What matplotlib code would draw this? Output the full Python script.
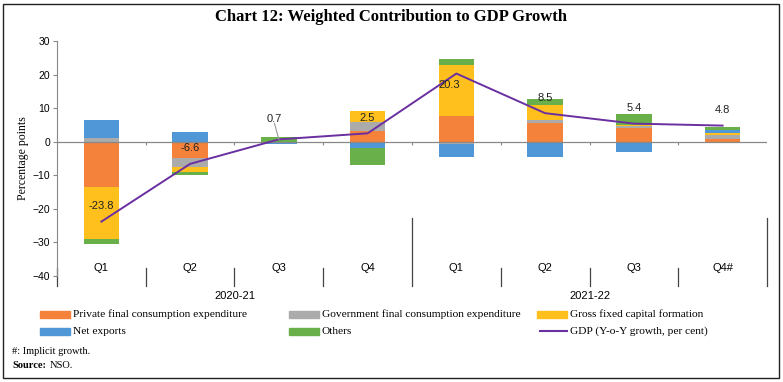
import matplotlib.pyplot as plt
from matplotlib.patches import Rectangle
from matplotlib.lines import Line2D
import numpy as np

# Quarters and fiscal years
quarters = ['Q1', 'Q2', 'Q3', 'Q4', 'Q1', 'Q2', 'Q3', 'Q4#']
years = ['2020-21', '2021-22']

# Weighted contributions (percentage points)
private_cons = [-13.6, -4.8, 0.0, 3.3, 7.7, 5.5, 4.1, 0.7]
govt_cons = [1.1, -2.6, 0.0, 2.6, -0.8, 0.9, 0.5, 1.4]
gfcf = [-15.3, -1.5, 0.0, 3.2, 15.2, 4.6, 0.5, 0.4]
net_exports = [5.3, 2.8, -0.8, -1.9, -3.7, -4.5, -3.2, 1.1]
others = [-1.5, -0.9, 1.3, -4.9, 1.6, 1.7, 3.3, 0.8]

# GDP growth, y-o-y per cent
gdp = [-23.8, -6.6, 0.7, 2.5, 20.3, 8.5, 5.4, 4.8]

series = [private_cons, govt_cons, gfcf, net_exports, others]
names = ['Private final consumption expenditure',
         'Government final consumption expenditure',
         'Gross fixed capital formation', 'Net exports', 'Others']
colors = ['#F4823A', '#ABABAB', '#FFC01E', '#4F97D6', '#6AB04A']
line_color = '#6A2FA0'

serif = 'Liberation Serif'
sans = 'Liberation Sans'

fig = plt.figure(figsize=(7.83, 3.82), dpi=100)
W, H = 783., 382.
ax = fig.add_axes([57/W, 1-276/H, (767-57)/W, (276-41)/H])

x = np.arange(len(quarters))
pos = np.zeros(len(x))
neg = np.zeros(len(x))
for vals, c in zip(series, colors):
  v = np.array(vals)
  bottom = np.where(v >= 0, pos, neg)
  ax.bar(x, v, 0.4, bottom=bottom, color=c, edgecolor='none', zorder=2)
  pos = pos + np.where(v >= 0, v, 0)
  neg = neg + np.where(v < 0, v, 0)

ax.plot(x, gdp, color=line_color, lw=1.4, zorder=3)

# data labels for GDP line (offsets in data units / category units)
label_dy = [4.6, 4.6, 6.1, 4.5, -3.4, 4.6, 4.5, 4.6]
label_dx = [0, 0, -0.05, 0, -0.08, 0, 0, 0]
for i, g in enumerate(gdp):
  lx, ly = x[i] + label_dx[i], g + label_dy[i]
  ax.text(lx, ly, '{:.1f}'.format(g), ha='center', va='center',
          fontsize=8, family=sans, color='#222222', zorder=4)
  if i == 2:
    ax.plot([lx, x[i]], [ly - 1.3, g], color='#999999', lw=0.8, zorder=4)

ax.set_xlim(-0.5, len(x) - 0.5)
ax.set_ylim(-40, 30)
ax.set_yticks(range(-40, 31, 10))
ax.set_xticks([])
ax.tick_params(axis='y', labelsize=7.5, length=3, pad=2, color='#888888', width=0.8)
for t in ax.get_yticklabels():
  t.set_family(sans)
for s in ['top', 'right', 'bottom']:
  ax.spines[s].set_visible(False)
ax.spines['left'].set_color('#888888')
ax.spines['left'].set_linewidth(0.8)
ax.axhline(0, color='#888888', lw=0.9, zorder=2.5)
ax.set_ylabel('Percentage points', family=serif, fontsize=8.5)
ax.yaxis.set_label_coords(-28/710, 0.5)

# small ticks on the zero line
bnd = np.arange(len(x) + 1) - 0.5
ax.vlines(bnd[1:], -0.9, 0, color='#888888', lw=0.8)

# category separators below the plot
trans = ax.get_xaxis_transform()
for k, b in enumerate(bnd):
  top = 0.247 if k in (4, 8) else 0.034
  ax.plot([b, b], [top, -0.043], transform=trans, color='#444444',
          lw=0.9, clip_on=False)
for i, q in enumerate(quarters):
  ax.text(i, 0.034, q, transform=trans, ha='center', va='center',
          fontsize=8, family=sans)
for j, yr in enumerate(years):
  ax.text(1.5 + 4*j, -0.085, yr, transform=trans, ha='center', va='center',
          fontsize=8, family=sans)

# title
fig.text(391/W, 1-17/H, 'Chart 12: Weighted Contribution to GDP Growth',
         ha='center', va='center', fontsize=12, fontweight='bold', family=serif)

# legend drawn by hand
leg_x = [40, 289, 537]
leg_y = [314, 331]
for k, (n, c) in enumerate(zip(names + ['GDP (Y-o-Y growth, per cent)'],
                                colors + [line_color])):
  col, row = k % 3, k // 3
  x0, y0 = leg_x[col], leg_y[row]
  if k < 5:
    fig.patches.append(Rectangle((x0/W, 1-(y0+3.5)/H), 30/W, 7/H,
                                 transform=fig.transFigure, color=c))
  else:
    fig.lines.append(Line2D([(x0+3)/W, (x0+30)/W], [1-y0/H, 1-y0/H],
                            transform=fig.transFigure, color=c, lw=1.5))
  fig.text((x0+33)/W, 1-y0/H, n, ha='left', va='center', fontsize=8.2,
           family=serif)

# notes
fig.text(12/W, 1-352/H, '#: Implicit growth.', ha='left', va='center',
         fontsize=7.5, family=serif)
fig.text(12/W, 1-365/H, 'Source:', ha='left', va='center', fontsize=7.5,
         family=serif, fontweight='bold')
fig.text(50/W, 1-365/H, 'NSO.', ha='left', va='center', fontsize=7.5,
         family=serif)

# outer frame
fig.patches.append(Rectangle((3/W, 4/H), 776/W, 374/H, transform=fig.transFigure,
                             fill=False, edgecolor='#222222', lw=1))

plt.savefig('out.png', dpi=100)
